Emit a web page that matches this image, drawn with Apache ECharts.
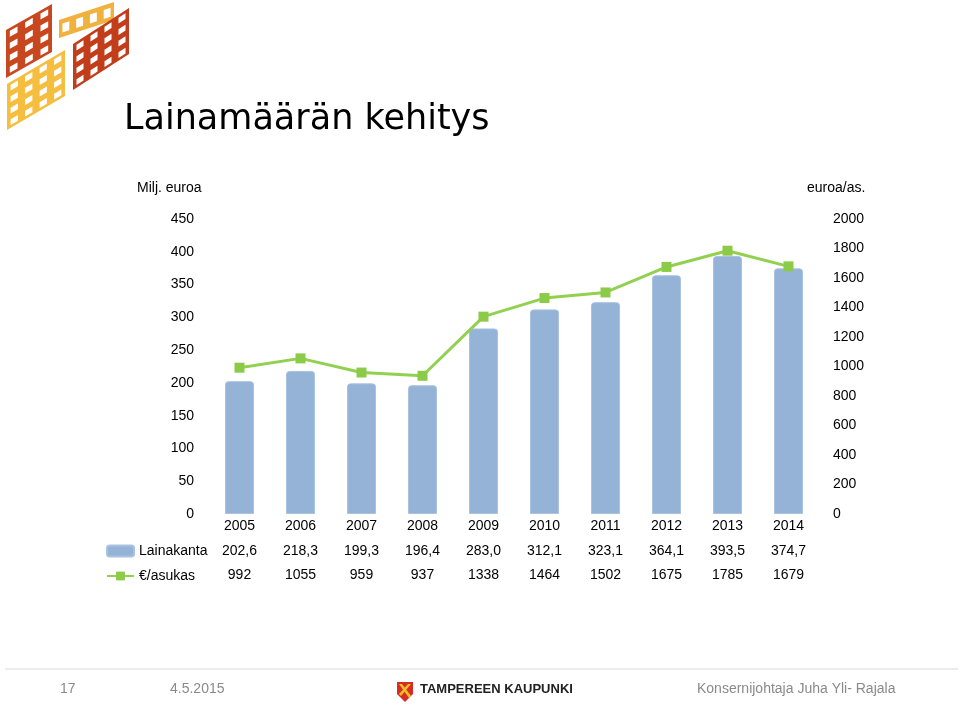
<!DOCTYPE html>
<html>
<head>
<meta charset="utf-8">
<script src="https://cdn.jsdelivr.net/npm/echarts@6/dist/echarts.min.js"></script>
<style>
html,body{margin:0;padding:0;background:#fff;}
#chart{width:960px;height:708px;}
</style>
</head>
<body>
<div id="chart"></div>
<script>
// ---- data ----
const years = ['2005','2006','2007','2008','2009','2010','2011','2012','2013','2014'];
const lainakanta = [202.6, 218.3, 199.3, 196.4, 283.0, 312.1, 323.1, 364.1, 393.5, 374.7];
const perCapita = [992, 1055, 959, 937, 1338, 1464, 1502, 1675, 1785, 1679];
const seriesNames = ['Lainakanta', '€/asukas'];
const leftAxisName = 'Milj. euroa';
const rightAxisName = 'euroa/as.';
const titleText = 'Lainamäärän kehitys';
const footerPage = '17';
const footerDate = '4.5.2015';
const footerOrg = 'TAMPEREEN KAUPUNKI';
const footerAuthor = 'Konsernijohtaja Juha Yli- Rajala';

const FONT = 'Liberation Sans, Arial, sans-serif';
const fmt = v => v.toFixed(1).replace('.', ',');

// ---- decorative logo helper ----
function flag(x0, y0, w, h, rise, color, cols, rows) {
  const els = [];
  els.push({
    type: 'polygon',
    shape: { points: [[x0, y0], [x0 + w, y0 - rise], [x0 + w, y0 - rise + h], [x0, y0 + h]] },
    style: { fill: color }
  });
  const cw = w / cols, ch = h / rows;
  const s = 0.5;
  for (let c = 0; c < cols; c++) {
    for (let r = 0; r < rows; r++) {
      const cx = x0 + (c + 0.5) * cw;
      const cy = y0 - rise * (c + 0.5) / cols + (r + 0.5) * ch;
      const hw = cw * s / 2, hh = ch * s / 2, sl = rise / w * hw;
      els.push({
        type: 'polygon',
        shape: { points: [[cx - hw, cy - hh + sl], [cx + hw, cy - hh - sl], [cx + hw, cy + hh - sl], [cx - hw, cy + hh + sl]] },
        style: { fill: '#fff' }
      });
    }
  }
  return els;
}

const logo = [].concat(
  flag(6, 30, 46, 48, 26, '#C9471F', 3, 4),
  flag(59, 20, 55, 18, 18, '#F0B23C', 4, 1),
  flag(73, 44, 56, 46, 36, '#C23E1A', 4, 4),
  flag(7, 84, 58, 46, 34, '#F6BE3E', 4, 4)
);

const chart = echarts.init(document.getElementById('chart'), null, { renderer: 'canvas' });

const option = {
  backgroundColor: '#fff',
  animation: false,
  textStyle: { fontFamily: FONT },
  grid: { left: 209, right: 141, top: 219, bottom: 194, containLabel: false },
  legend: {
    orient: 'vertical',
    left: 106,
    top: 544,
    padding: 0,
    itemWidth: 27,
    itemHeight: 11,
    itemGap: 11,
    selectedMode: false,
    data: seriesNames,
    textStyle: { fontFamily: FONT, fontSize: 14, color: '#000' }
  },
  xAxis: {
    type: 'category',
    data: years,
    axisLine: { show: false },
    axisTick: { show: false },
    axisLabel: {
      interval: 0,
      margin: 0,
      formatter: (value, idx) => `{y|${value}}\n{v|${fmt(lainakanta[idx])}}\n{v|${perCapita[idx]}}`,
      rich: {
        y: { fontFamily: FONT, fontSize: 14, color: '#000', lineHeight: 24.5 },
        v: { fontFamily: FONT, fontSize: 14, color: '#000', lineHeight: 24.5 }
      }
    }
  },
  yAxis: [
    {
      type: 'value', min: 0, max: 450, interval: 50,
      axisLine: { show: false }, axisTick: { show: false }, splitLine: { show: false },
      axisLabel: { margin: 15, fontFamily: FONT, fontSize: 14, color: '#000', formatter: v => String(v) }
    },
    {
      type: 'value', min: 0, max: 2000, interval: 200, position: 'right',
      axisLine: { show: false }, axisTick: { show: false }, splitLine: { show: false },
      axisLabel: { margin: 14, fontFamily: FONT, fontSize: 14, color: '#000', align: 'left', formatter: v => String(v) }
    }
  ],
  series: [
    {
      name: seriesNames[0],
      type: 'bar',
      yAxisIndex: 0,
      data: lainakanta,
      barWidth: 29,
      itemStyle: { color: '#95B3D7', borderRadius: [3, 3, 0, 0], borderColor: '#A9C2E0', borderWidth: 1 }
    },
    {
      name: seriesNames[1],
      type: 'line',
      yAxisIndex: 1,
      data: perCapita,
      symbol: 'rect',
      symbolSize: 10,
      lineStyle: { color: '#92D050', width: 3 },
      itemStyle: { color: '#8CCB48' }
    }
  ],
  graphic: logo.concat([
    {
      type: 'text', left: 124, top: 102,
      style: { text: titleText, fontFamily: 'DejaVu Sans, sans-serif', fontSize: 35, fill: '#000' }
    },
    {
      type: 'text', left: 137, top: 181,
      style: { text: leftAxisName, fontFamily: FONT, fontSize: 14, fill: '#000' }
    },
    {
      type: 'text', left: 807, top: 181,
      style: { text: rightAxisName, fontFamily: FONT, fontSize: 14, fill: '#000' }
    },
    {
      type: 'line',
      shape: { x1: 5, y1: 669, x2: 958, y2: 669 },
      style: { stroke: '#e6e6e6', lineWidth: 1.5 }
    },
    {
      type: 'text', left: 60, top: 682,
      style: { text: footerPage, fontFamily: FONT, fontSize: 14, fill: '#8a8a8a' }
    },
    {
      type: 'text', left: 170, top: 682,
      style: { text: footerDate, fontFamily: FONT, fontSize: 14, fill: '#8a8a8a' }
    },
    {
      type: 'polygon',
      shape: { points: [[397, 682], [413, 682], [413, 694], [405, 702], [397, 694]] },
      style: { fill: '#D52B2B' }
    },
    {
      type: 'polygon',
      shape: { points: [[399, 684], [402, 684], [411, 696], [409, 698]] },
      style: { fill: '#F4C020' }
    },
    {
      type: 'polygon',
      shape: { points: [[408, 684], [411, 684], [401, 696], [399, 694]] },
      style: { fill: '#F4C020' }
    },
    {
      type: 'text', left: 420, top: 683,
      style: { text: footerOrg, fontFamily: FONT, fontSize: 13, fontWeight: 'bold', fill: '#222' }
    },
    {
      type: 'text', left: 697, top: 682,
      style: { text: footerAuthor, fontFamily: FONT, fontSize: 14, fill: '#8a8a8a' }
    }
  ])
};

chart.setOption(option);
</script>
</body>
</html>
